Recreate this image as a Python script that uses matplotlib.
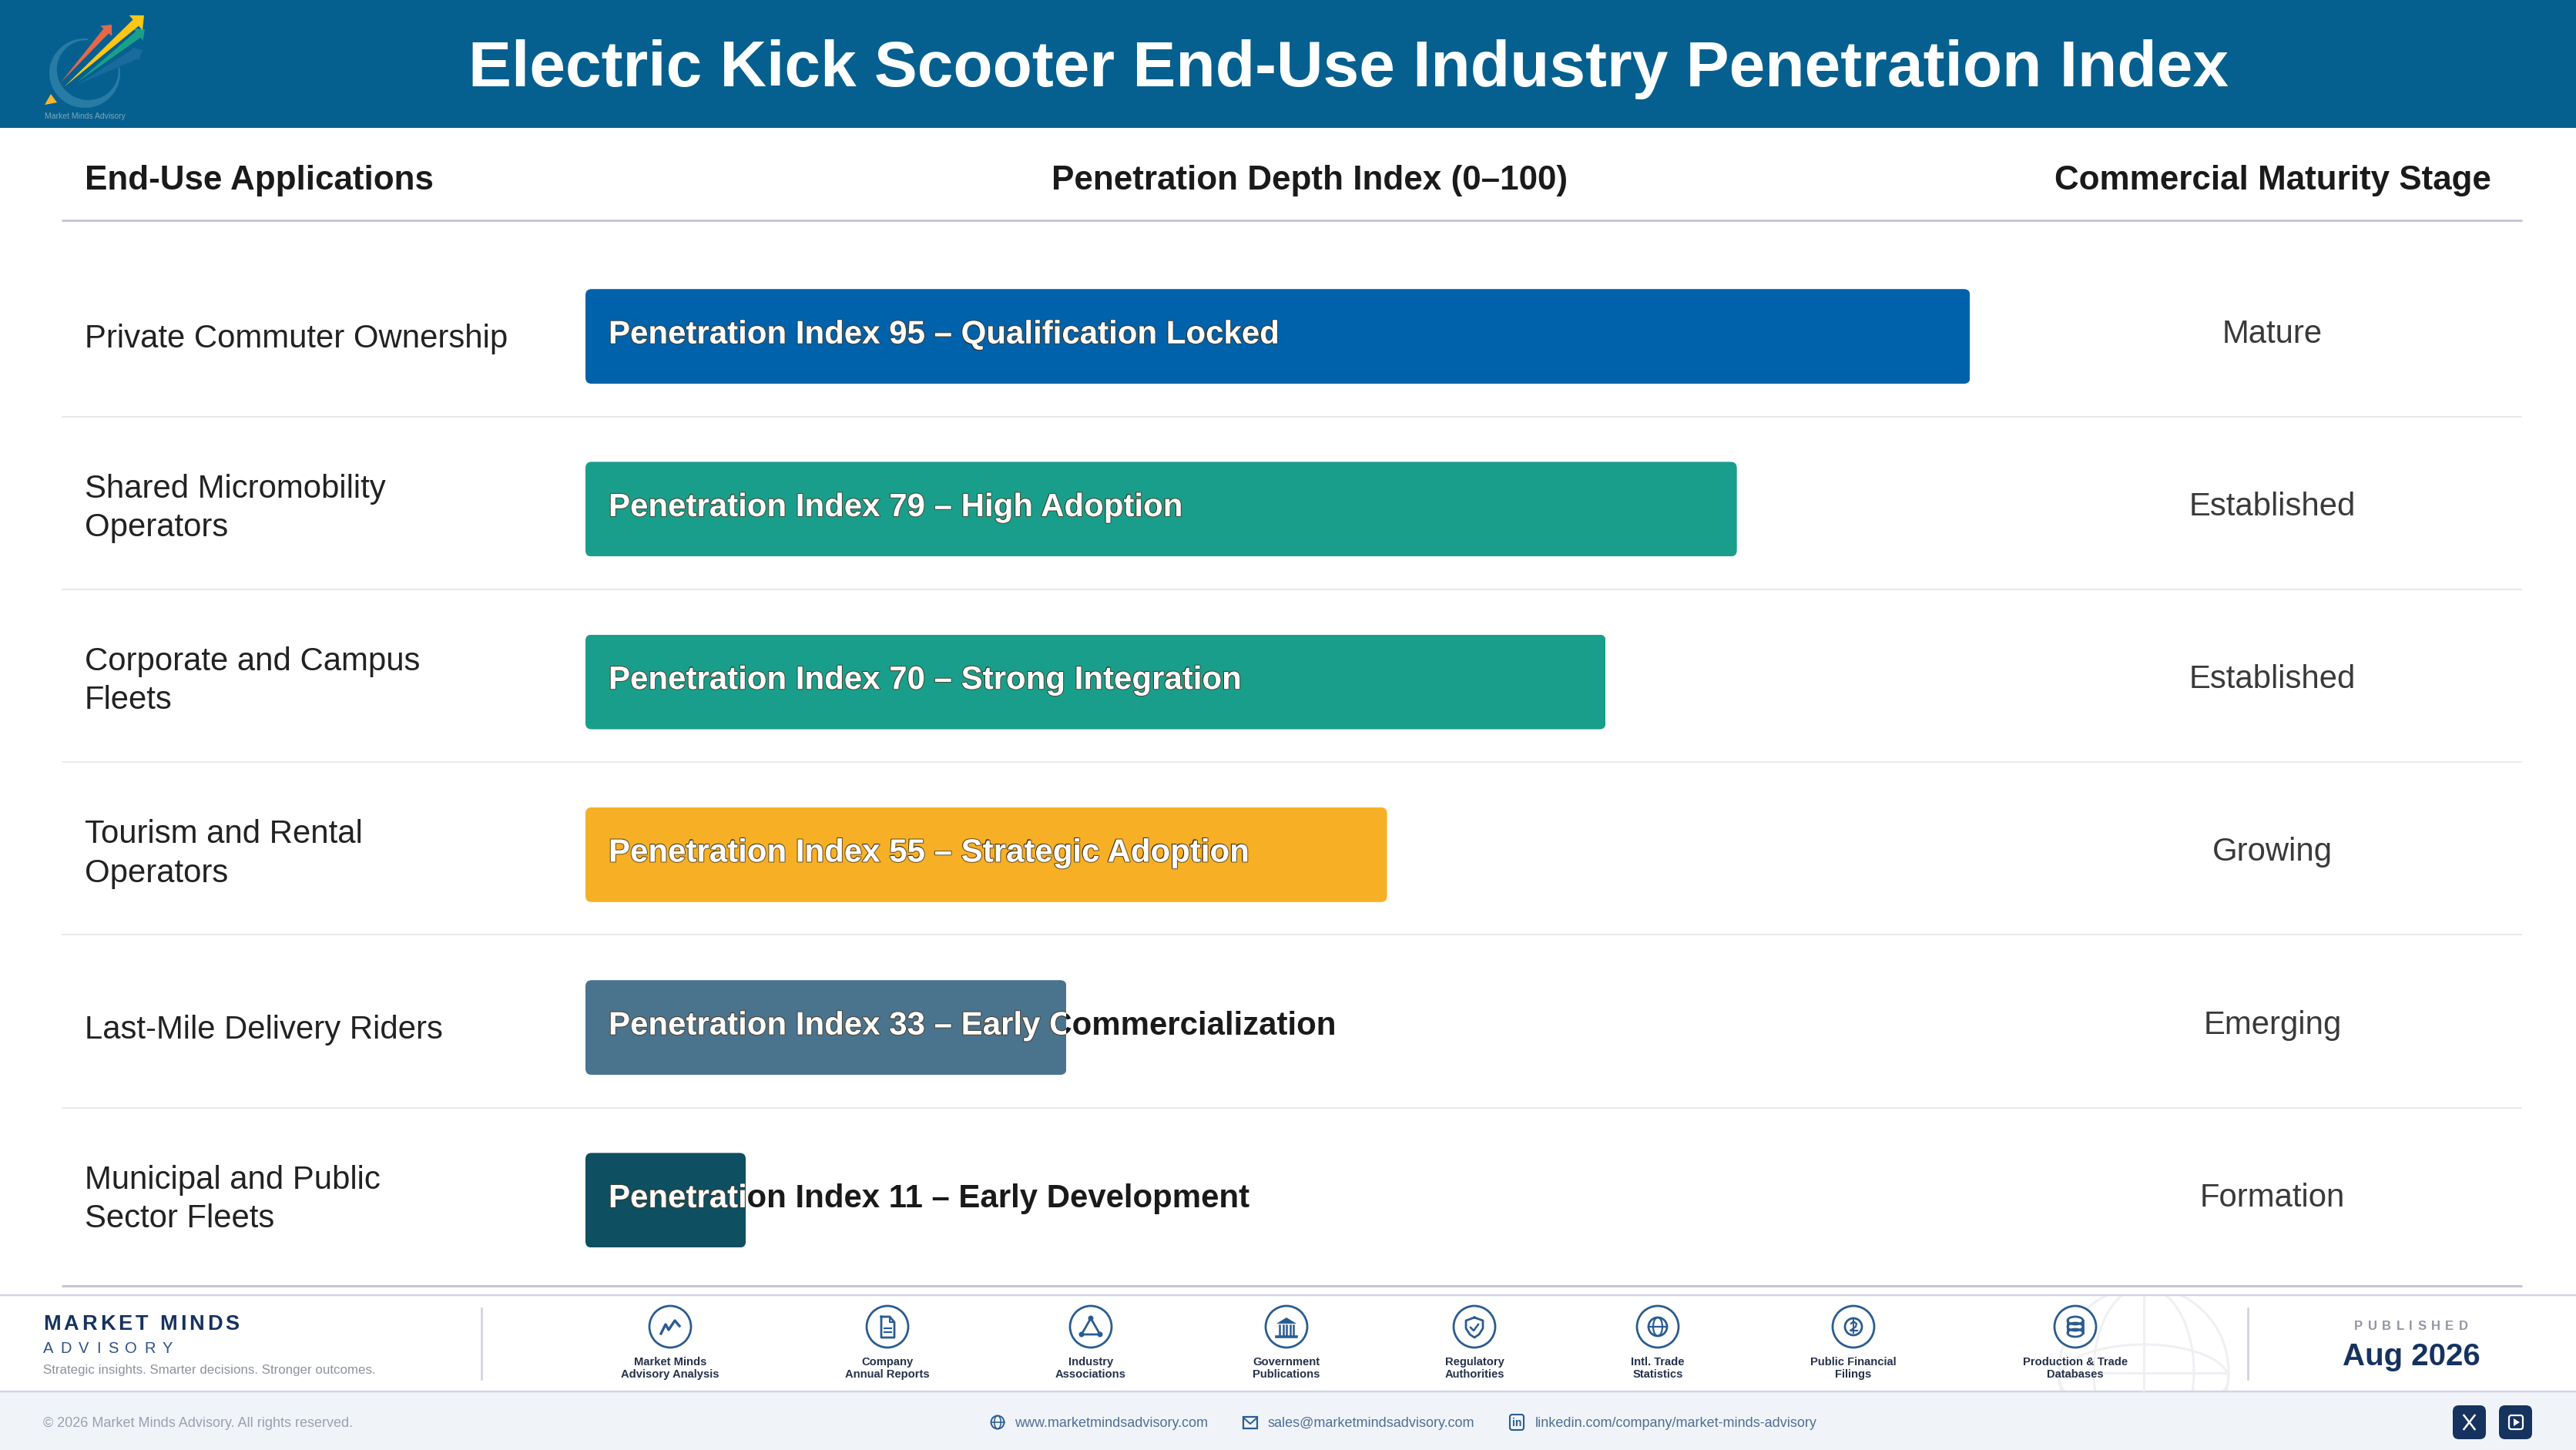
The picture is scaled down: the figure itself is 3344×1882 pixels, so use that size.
import numpy as np
import matplotlib
matplotlib.use("Agg")
import matplotlib.pyplot as plt
import matplotlib.patheffects as pe
from matplotlib.patches import Rectangle, Circle, Ellipse, Polygon, FancyBboxPatch
from matplotlib.font_manager import FontProperties

plt.rcParams['font.family'] = ['Liberation Sans', 'DejaVu Sans']

W, H = 3344, 1882

applications = ["Private Commuter Ownership", "Shared Micromobility\nOperators",
                "Corporate and Campus\nFleets", "Tourism and Rental\nOperators",
                "Last-Mile Delivery Riders", "Municipal and Public\nSector Fleets"]
index_values = [95, 79, 70, 55, 33, 11]
index_notes = ["Qualification Locked", "High Adoption", "Strong Integration",
               "Strategic Adoption", "Early Commercialization", "Early Development"]
stages = ["Mature", "Established", "Established", "Growing", "Emerging", "Formation"]
bar_colors = ["#0062AB", "#1A9E8C", "#1A9E8C", "#F7B026", "#4A738E", "#0E4F61"]

sources = ["Market Minds\nAdvisory Analysis", "Company\nAnnual Reports", "Industry\nAssociations",
           "Government\nPublications", "Regulatory\nAuthorities", "Intl. Trade\nStatistics",
           "Public Financial\nFilings", "Production & Trade\nDatabases"]
source_x = [870, 1152, 1416, 1670, 1914, 2152, 2406, 2694]

NAVY = "#16325F"
ICON = "#2A5C92"

fig = plt.figure(figsize=(W / 100, H / 100), dpi=100, facecolor="white")

# page overlay in pixel coordinates
page = fig.add_axes([0, 0, 1, 1])
page.set_xlim(0, W)
page.set_ylim(H, 0)
page.axis("off")


def rect(x0, y0, x1, y1, color, **kw):
    page.add_patch(Rectangle((x0, y0), x1 - x0, y1 - y0, facecolor=color, edgecolor="none", **kw))


def hline(y, x0, x1, color, px):
    page.plot([x0, x1], [y, y], color=color, lw=px * 0.72, solid_capstyle="butt")


def spaced(x, y, s, gap, size, **kw):
    # letter spacing by hand, matplotlib has no such option
    prop = FontProperties(family="Liberation Sans", size=size, weight=kw.get("weight", "normal"))
    rend = fig.canvas.get_renderer()
    total = rend.get_text_width_height_descent(s, prop, False)[0] + gap * (len(s) - 1)
    if kw.pop("center", False):
        x = x - total / 2
    for i, ch in enumerate(s):
        if ch == " ":
            continue
        before = rend.get_text_width_height_descent(s[:i + 1], prop, False)[0]
        own = rend.get_text_width_height_descent(ch, prop, False)[0]
        page.text(x + before - own + i * gap, y, ch, fontsize=size, ha="left", va="center", **kw)


# header
rect(0, 0, W, 166, "#05608F")
page.text(1751, 90, "Electric Kick Scooter End-Use Industry Penetration Index", color="white",
          fontsize=60.4, fontweight="bold", ha="center", va="center")


def logo_arrow(tail, tip, w, head, color, alpha=1.0):
    tail, tip = np.array(tail, float), np.array(tip, float)
    d = (tip - tail) / np.linalg.norm(tip - tail)
    n = np.array([-d[1], d[0]])
    neck = tip - d * head * 1.1
    pts = [tail, neck + n * w, neck + n * head, tip, neck - n * head, neck - n * w]
    page.add_patch(Polygon(pts, closed=True, facecolor=color, edgecolor="none", alpha=alpha))


# logo ring, thick at the lower left, thin at the top
t = np.linspace(np.radians(-10), np.radians(275), 80)
thick = 2 + 10 * np.sin((t - t[0]) / (t[-1] - t[0]) * np.pi) ** 1.5
ring_out = np.c_[110 + 46 * np.cos(t), 95 + 45 * np.sin(t)]
ring_in = np.c_[110 + (46 - thick) * np.cos(t), 95 + (45 - thick) * np.sin(t)]
page.add_patch(Polygon(np.r_[ring_out, ring_in[::-1]], closed=True, facecolor="#2F81A8", edgecolor="none", alpha=0.85))
logo_arrow((100, 110), (185, 65), 7, 10, "#1D6FA0", 0.8)
logo_arrow((79, 107), (145, 32), 4.5, 10, "#E8674A")
logo_arrow((100, 107), (188, 38), 5, 10, "#18A088")
logo_arrow((83, 113), (187, 20), 5.5, 13, "#FFC517")
page.add_patch(Polygon([(58, 136), (66, 122), (74, 133)], closed=True, facecolor="#FBB52C", edgecolor="none"))
page.text(110, 151, "Market Minds Advisory", color="#7FA6BE", fontsize=7.5, ha="center", va="center")

# column headers
page.text(110, 234, "End-Use Applications", color="#1A1A1A", fontsize=31.7, fontweight="bold", va="center")
page.text(1700, 234, "Penetration Depth Index (0–100)", color="#1A1A1A", fontsize=31.7, fontweight="bold", ha="center", va="center")
page.text(2950, 234, "Commercial Maturity Stage", color="#1A1A1A", fontsize=31.7, fontweight="bold", ha="center", va="center")
hline(286, 80, 3274, "#C6C6D4", 3)

# row separators and row text
row_y = [436.5 + 224.3 * i for i in range(6)]
for i in range(5):
    hline(row_y[i] + 104, 80, 3274, "#E9E9E9", 2)
hline(1669, 80, 3274, "#C6C6D4", 3)

for y, name, stage in zip(row_y, applications, stages):
    dy = -1 if "\n" in name else 3
    page.text(110, y + dy, name, color="#222222", fontsize=30.2, va="center", linespacing=1.34)
    page.text(2950, y - 3, stage, color="#3A3A3A", fontsize=30.2, ha="center", va="center")

# bars on their own axes, 0-100 scale
bar_ax = fig.add_axes([760 / W, 1 - 1670 / H, 1892 / W, (1670 - 324.5) / H])
bar_ax.patch.set_alpha(0)
bar_ax.set_xlim(0, 100)
bar_ax.set_ylim(5.5, -0.5)
bar_ax.axis("off")
bars = bar_ax.barh(range(6), index_values, height=0.548, color=bar_colors, linewidth=0)
r = 8
for i, (bar, val, note) in enumerate(zip(bars, index_values, index_notes)):
    box = bar.get_window_extent()
    round_clip = FancyBboxPatch((box.x0 + r, box.y0 + r), box.width - 2 * r, box.height - 2 * r,
                                boxstyle="round,pad=%d,rounding_size=%d" % (r, r))
    bar.set_clip_path(round_clip)
    label = "Penetration Index %d – %s" % (val, note)
    # dark text below, white copy clipped to the bar on top
    bar_ax.annotate(label, xy=(0, i), xytext=(21.6, 1.4), textcoords="offset points", color="#1A1A1A",
                    fontsize=30.25, fontweight="bold", va="center", annotation_clip=False)
    top = bar_ax.annotate(label, xy=(0, i), xytext=(21.6, 1.4), textcoords="offset points", color="white",
                          fontsize=30.25, fontweight="bold", va="center", annotation_clip=False,
                          path_effects=[pe.withStroke(linewidth=1.6, foreground="#4A3A20", alpha=0.75)])
    top.set_clip_path(bar)
    top.set_clip_on(True)

# footer bands
rect(0, 1806, W, H, "#F0F4F9")
hline(1681, 0, W, "#D2D4E4", 2.5)
hline(1806, 0, W, "#D2D4E4", 2.5)

# faint globe behind the sources
band = Rectangle((2500, 1682), 500, 124, transform=page.transData)
for art in [Circle((2783, 1780), 110), Ellipse((2783, 1780), 130, 220), Ellipse((2783, 1790), 220, 90)]:
    art.set(facecolor="none", edgecolor="#F0F0F4", lw=2.2)
    page.add_patch(art)
    art.set_clip_path(band)
eq, = page.plot([2673, 2893], [1782, 1782], color="#F0F0F4", lw=2.2)
eq.set_clip_path(band)
mer, = page.plot([2783, 2783], [1670, 1806], color="#F0F0F4", lw=2.2)
mer.set_clip_path(band)

page.plot([625, 625], [1698, 1790], color="#CDD0D8", lw=1.8)
page.plot([2918, 2918], [1698, 1790], color="#CDD0D8", lw=1.8)

spaced(56, 1719, "MARKET MINDS", 3.9, 19.5, color=NAVY, weight="bold")
spaced(56, 1751, "ADVISORY", 9.2, 14.5, color="#2E5285")
page.text(56, 1778, "Strategic insights. Smarter decisions. Stronger outcomes.", color="#8D929C", fontsize=12.2, va="center")

spaced(3130, 1721, "PUBLISHED", 6.4, 12, color="#9196A4", weight="bold", center=True)
page.text(3130, 1761, "Aug 2026", color=NAVY, fontsize=29, fontweight="bold", ha="center", va="center")


def line(cx, cy, pts, lw=2.0, color=ICON, **kw):
    pts = np.array(pts, float)
    page.plot(cx + pts[:, 0], cy + pts[:, 1], color=color, lw=lw, solid_joinstyle="round", **kw)


def icon_chart(cx, cy):
    line(cx, cy, [(-12, 9), (-6, -3), (-2, 4), (6, -8), (12, -1)], 2.4)


def icon_doc(cx, cy):
    line(cx, cy, [(-8, -13), (3, -13), (9, -6), (9, 14), (-8, 14), (-8, -13)])
    line(cx, cy, [(3, -13), (3, -6), (9, -6)], 1.5)
    line(cx, cy, [(-4, 2), (5, 2)], 1.5)
    line(cx, cy, [(-4, 7), (5, 7)], 1.5)


def icon_nodes(cx, cy):
    line(cx, cy, [(0, -11), (-12, 10), (12, 10), (0, -11)])
    for dx, dy in [(0, -11), (-12, 10), (12, 10)]:
        page.add_patch(Circle((cx + dx, cy + dy), 3.5, facecolor=ICON, edgecolor="none"))


def icon_bank(cx, cy):
    page.add_patch(Polygon([(cx - 13, cy - 4), (cx, cy - 12), (cx + 13, cy - 4)], closed=True, facecolor=ICON, edgecolor="none"))
    for dx in [-9, -4.5, 0, 4.5, 9]:
        line(cx, cy, [(dx, -2), (dx, 11)], 1.8)
    line(cx, cy, [(-13, 13), (13, 13)], 2.6)


def icon_shield(cx, cy):
    line(cx, cy, [(0, -12), (11, -8), (11, 2), (6, 10), (0, 14), (-6, 10), (-11, 2), (-11, -8), (0, -12)])
    line(cx, cy, [(-5, 1), (-1, 5), (5, -3)], 1.8)


def icon_globe(cx, cy, rad=12, lw=2.0):
    page.add_patch(Circle((cx, cy), rad, facecolor="none", edgecolor=ICON, lw=lw))
    page.add_patch(Ellipse((cx, cy), rad, rad * 2, facecolor="none", edgecolor=ICON, lw=lw * 0.8))
    line(cx, cy, [(-rad, 0), (rad, 0)], lw * 0.8)


def icon_coin(cx, cy):
    page.add_patch(Circle((cx, cy), 11, facecolor="none", edgecolor=ICON, lw=2.0))
    line(cx, cy, [(-3, -4), (0, -7), (4, -4), (3, 0), (-4, 5), (5, 5)], 1.6)
    line(cx, cy, [(0, -9), (0, 8)], 1.4)


def icon_db(cx, cy):
    for dy in [-8, 0, 8]:
        page.add_patch(Ellipse((cx, cy + dy), 20, 10, facecolor="none", edgecolor=ICON, lw=2.0))
    line(cx, cy, [(-10, -8), (-10, 8)])
    line(cx, cy, [(10, -8), (10, 8)])


icons = [icon_chart, icon_doc, icon_nodes, icon_bank, icon_shield, icon_globe, icon_coin, icon_db]
for sx, name, draw in zip(source_x, sources, icons):
    page.add_patch(Circle((sx, 1722), 27, facecolor="white", edgecolor=ICON, lw=2.0))
    draw(sx, 1722)
    page.text(sx, 1776, name, color="#25324A", fontsize=10.6, fontweight="bold", ha="center", va="center", linespacing=1.22)

# bottom strip
page.text(56, 1847, "© 2026 Market Minds Advisory. All rights reserved.", color="#9AA0AD", fontsize=13, va="center")
page.text(1317, 1847, "www.marketmindsadvisory.com", color="#4F6E96", fontsize=13, va="center")
page.text(1646, 1847, "sales@marketmindsadvisory.com", color="#4F6E96", fontsize=13, va="center")
page.text(1993, 1847, "linkedin.com/company/market-minds-advisory", color="#4F6E96", fontsize=13, va="center")
icon_globe(1295, 1846, 8.5, 1.4)
page.add_patch(Rectangle((1614, 1839), 18, 15, facecolor="none", edgecolor=ICON, lw=1.6))
line(1623, 1846, [(-9, -6), (0, 2), (9, -6)], 1.4)
page.add_patch(FancyBboxPatch((1962, 1838), 14, 16, boxstyle="round,pad=2,rounding_size=3", facecolor="none", edgecolor=ICON, lw=1.5))
page.text(1969, 1847, "in", color=ICON, fontsize=10, fontweight="bold", ha="center", va="center")

for x0 in [3184, 3244]:
    page.add_patch(FancyBboxPatch((x0 + 8, 1832), 27, 28, boxstyle="round,pad=8,rounding_size=8", facecolor=NAVY, edgecolor="none"))
line(3205.5, 1846, [(-7, -9), (7, 9)], 1.8, "white")
line(3205.5, 1846, [(-7, 9), (7, -9)], 1.8, "white")
page.add_patch(FancyBboxPatch((3259, 1839), 14, 14, boxstyle="round,pad=2,rounding_size=3", facecolor="none", edgecolor="white", lw=1.6))
page.add_patch(Polygon([(3263, 1841), (3271, 1846), (3263, 1851)], closed=True, facecolor="white", edgecolor="none"))

fig.savefig("out.png", dpi=100)
